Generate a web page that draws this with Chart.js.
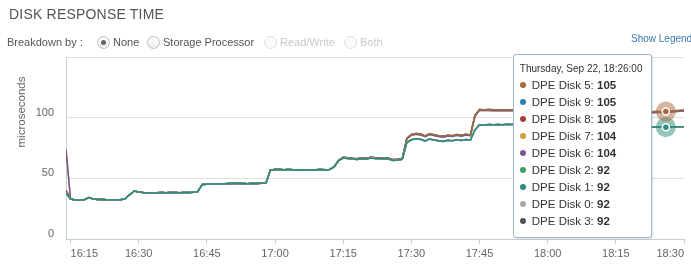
<!DOCTYPE html>
<html>
<head>
<meta charset="utf-8">
<title>Disk Response Time</title>
<script src="https://cdn.jsdelivr.net/npm/chart.js@4.4.1/dist/chart.umd.min.js"></script>
<style>
  html, body { margin: 0; padding: 0; background: #fff; }
  body { width: 691px; height: 279px; position: relative; overflow: hidden; font-family: "Liberation Sans", Arial, sans-serif; }
  #chart { position: absolute; left: 0; top: 0; }
  .title { position: absolute; left: 9px; top: 6px; font-size: 14px; line-height: 16px; color: #555; letter-spacing: 0.2px; }
  .breakdown { position: absolute; left: 7px; top: 36px; font-size: 11px; line-height: 13px; color: #555; }
  .radio { position: absolute; top: 36px; font-size: 11px; line-height: 13px; color: #555; white-space: nowrap; }
  .radio i { display: inline-block; position: relative; width: 11px; height: 11px; border: 1px solid #bdbdbd; border-radius: 50%;
             vertical-align: top; margin-right: 3px; background: linear-gradient(#fff, #ececec); }
  .radio.on i::after { content: ''; position: absolute; left: 3px; top: 3px; width: 5px; height: 5px; border-radius: 50%; background: #666; }
  .radio.off { color: #c9c9c9; }
  .radio.off i { border-color: #dedede; background: #fbfbfb; }
  .legend-link { position: absolute; left: 631px; top: 33px; font-size: 10px; line-height: 12px; color: #3a78b0; white-space: nowrap; }
  #tip { position: absolute; display: none; background: #fff; border: 1px solid #a3b6c9; border-radius: 3px;
         padding: 7px 8px 7px 6px; color: #333; white-space: nowrap; box-shadow: 1px 1px 2px rgba(0,0,0,0.12); }
  #tip .tip-title { font-size: 10px; line-height: 14px; margin-bottom: 1px; }
  #tip .tip-row { font-size: 11.5px; line-height: 17px; }
  #tip .dot { display: inline-block; width: 6px; height: 6px; border-radius: 50%; margin-right: 6px; vertical-align: middle; position: relative; top: -1px; }
</style>
</head>
<body>
<canvas id="chart" width="691" height="279"></canvas>
<div class="title">DISK RESPONSE TIME</div>
<div class="breakdown">Breakdown by :</div>
<div class="radio on" style="left:97px"><i></i>None</div>
<div class="radio" style="left:147px"><i></i>Storage Processor</div>
<div class="radio off" style="left:264px"><i></i>Read/Write</div>
<div class="radio off" style="left:344px"><i></i>Both</div>
<div class="legend-link">Show Legend</div>
<div id="tip"></div>
<script>
// one sample per minute, starting at firstSample
const firstSample = '16:14'
const lastTick = '18:30'
const hoverTime = '18:26'
const dayLabel = 'Thursday, Sep 22'
const yAxisTitle = 'microseconds'

const xTickLabels = ['16:15', '16:30', '16:45', '17:00', '17:15', '17:30', '17:45', '18:00', '18:15', '18:30']

// tooltip order
const diskLabels = ['DPE Disk 5', 'DPE Disk 9', 'DPE Disk 8', 'DPE Disk 7', 'DPE Disk 6', 'DPE Disk 2', 'DPE Disk 1', 'DPE Disk 0', 'DPE Disk 3']
const diskColors = ['#a6693f', '#2f80b0', '#a3433c', '#c9a53a', '#7a5494', '#3e9b62', '#2e8c7e', '#a9a9a9', '#4b545b']
const diskTrace  = ['upper', 'upper', 'upper', 'mid', 'mid', 'lower', 'lower', 'lower', 'lower']
// lower number = drawn on top
const drawOrder  = [2, 5, 6, 8, 7, 4, 0, 1, 3]

// disks 5, 9, 8
const upperTrace = [
  40, 33, 32.2, 32, 32.3, 34.2, 33, 32.6, 32.5, 32.3, 32.2, 32.3, 32.4, 33.2, 36.5, 39.6,
  38.8, 38.4, 38.2, 38, 38.1, 38.3, 38.2, 38.4, 38.3, 38.2, 38.4, 38.3, 38.6, 39.2,
  45, 45.2, 45.4, 45.3, 45.6, 45.5, 45.8, 45.7, 45.9, 45.8, 45.6, 45.9, 45.8, 46, 46.2,
  57, 57.3, 57.2, 57.1, 57.2, 57, 57.1, 57, 56.9, 57, 57.1, 57.2, 57, 57.3,
  59.5, 64.8, 67.3, 67, 66.5, 66.2, 66.8, 66.4, 67.4, 67, 66.8, 66.9, 66.6, 65.4, 65.8, 66.3,
  83, 86.2, 87, 86.5, 85, 86.8, 86, 85.2, 84.6, 85.6, 85.2, 86.2, 85.5, 86.4, 85.8, 102,
  106.8, 106.6, 106.7, 106.5, 106.6, 106.4, 106.5, 106.6, 106.3, 106.5, 106.2, 106.4, 106.1, 106.3, 106.0,
  106.2, 105.9, 106.1, 105.8, 106.0, 105.7, 105.9, 105.6, 105.8, 105.5, 105.7, 105.4, 105.6, 105.3, 105.5,
  105.2, 105.4, 105.1, 105.3, 105.0, 105.2, 104.9, 105.1, 104.8, 105.0, 104.9, 105.0, 105.3, 105.6, 105.9, 106.2
]

// disks 7, 6
const midTrace = [
  74, 33, 32.2, 32, 32.3, 34.2, 33, 32.6, 32.5, 32.3, 32.2, 32.3, 32.4, 33.2, 36.5, 39.6,
  38.8, 38.4, 38.2, 38, 38.1, 38.3, 38.2, 38.4, 38.3, 38.2, 38.4, 38.3, 38.6, 39.2,
  45, 45.2, 45.4, 45.3, 45.6, 45.5, 45.8, 45.7, 45.9, 45.8, 45.6, 45.9, 45.8, 46, 46.2,
  57, 57.3, 57.2, 57.1, 57.2, 57, 57.1, 57, 56.9, 57, 57.1, 57.2, 57, 57.3,
  59.5, 64.8, 67.2, 66.9, 66.4, 66.1, 66.7, 66.3, 67.2, 66.9, 66.7, 66.8, 66.5, 65.3, 65.7, 66.2,
  82.4, 85.5, 86.3, 85.8, 84.3, 86.1, 85.3, 84.5, 83.9, 84.9, 84.5, 85.5, 84.8, 85.7, 85.1, 101.3,
  106.1, 105.9, 106.0, 105.8, 105.9, 105.7, 105.8, 105.9, 105.6, 105.8, 105.5, 105.7, 105.4, 105.6, 105.3,
  105.5, 105.2, 105.4, 105.1, 105.3, 105.0, 105.2, 104.9, 105.1, 104.8, 105.0, 104.7, 104.9, 104.6, 104.8,
  104.5, 104.7, 104.4, 104.6, 104.3, 104.5, 104.2, 104.4, 104.1, 104.3, 104.2, 104.3, 104.6, 104.9, 105.2, 105.5
]

// disks 2, 1, 0, 3
const lowerTrace = [
  38, 33, 32.2, 32, 32.3, 34.2, 33, 32.6, 32.5, 32.3, 32.2, 32.3, 32.4, 33.2, 36.5, 39.6,
  38.8, 38.4, 38.2, 38, 38.1, 38.3, 38.2, 38.4, 38.3, 38.2, 38.4, 38.3, 38.6, 39.2,
  45, 45.2, 45.4, 45.3, 45.6, 45.5, 45.8, 45.7, 45.9, 45.8, 45.6, 45.9, 45.8, 46, 46.2,
  57, 57.3, 57.2, 57.1, 57.2, 57, 57.1, 57, 56.9, 57, 57.1, 57.2, 57, 57.3,
  59.5, 64.6, 66.7, 66.4, 65.9, 65.6, 66.2, 65.8, 66.8, 66.4, 66.2, 66.3, 66, 64.8, 65.2, 65.7,
  79.5, 81.8, 82.6, 82.2, 80.8, 82.4, 81.6, 80.9, 80.3, 81.3, 80.9, 81.8, 81.1, 82, 81.4, 90,
  94.2, 94.0, 94.3, 94.1, 94.4, 94.2, 94.6, 94.3, 94.5, 94.2, 94.0, 94.3, 94.1, 93.8, 94.0,
  93.7, 93.9, 93.6, 93.4, 93.6, 93.3, 93.5, 93.2, 93.0, 93.2, 92.9, 93.1, 92.8, 92.6, 92.8,
  92.5, 92.7, 92.4, 92.6, 92.3, 92.5, 92.2, 92.4, 92.1, 92.3, 92.1, 92.2, 92.4, 92.3, 92.6, 92.5
]

const traces = { upper: upperTrace, mid: midTrace, lower: lowerTrace }
const fontFamily = '"Liberation Sans", Arial, sans-serif'

const toMin = t => { const [h, m] = t.split(':').map(Number); return h * 60 + m }
const fmtMin = v => Math.floor(v / 60) + ':' + String(Math.round(v % 60)).padStart(2, '0')
const startMin = toMin(firstSample)

// Highcharts-like hover: one halo + marker per distinct position
const hoverMarks = {
  id: 'hoverMarks',
  afterDatasetsDraw(chart) {
    const sets = chart.data.datasets
    const active = chart.getActiveElements().slice().sort((a, b) => sets[a.datasetIndex].order - sets[b.datasetIndex].order)
    const ctx = chart.ctx
    const drawn = []
    ctx.save()
    active.forEach(a => {
      const {x, y} = a.element
      if (drawn.some(d => Math.abs(d - y) < 4)) return
      drawn.push(y)
      const color = sets[a.datasetIndex].borderColor
      ctx.globalAlpha = 0.5
      ctx.fillStyle = color
      ctx.beginPath(); ctx.arc(x, y, 10, 0, Math.PI * 2); ctx.fill()
      ctx.globalAlpha = 1
      ctx.lineWidth = 1.5
      ctx.strokeStyle = '#fff'
      ctx.beginPath(); ctx.arc(x, y, 3.5, 0, Math.PI * 2); ctx.fill(); ctx.stroke()
    })
    ctx.restore()
  }
}

// y axis title sits above the middle of the axis in the original
const yTitle = {
  id: 'yTitle',
  afterDraw(chart) {
    const ctx = chart.ctx
    ctx.save()
    ctx.translate(22, chart.chartArea.top + 55)
    ctx.rotate(-Math.PI / 2)
    ctx.font = '11.5px ' + fontFamily
    ctx.fillStyle = '#666'
    ctx.textAlign = 'center'
    ctx.textBaseline = 'middle'
    ctx.fillText(yAxisTitle, 0, 0)
    ctx.restore()
  }
}

function renderTip(context) {
  const {chart, tooltip} = context
  const tip = document.getElementById('tip')
  if (tooltip.opacity === 0 || !tooltip.dataPoints || !tooltip.dataPoints.length) {
    tip.style.display = 'none'
    return
  }
  let html = '<div class="tip-title">' + dayLabel + ', ' + fmtMin(tooltip.dataPoints[0].parsed.x) + ':00</div>'
  tooltip.dataPoints.forEach(dp => {
    html += '<div class="tip-row"><span class="dot" style="background:' + dp.dataset.borderColor + '"></span>' +
      dp.dataset.label + ': <b>' + Math.round(dp.parsed.y) + '</b></div>'
  })
  tip.innerHTML = html
  tip.style.display = 'block'
  tip.style.left = (tooltip.caretX - 14 - tip.offsetWidth) + 'px'
  tip.style.top = (chart.chartArea.top - 3) + 'px'
}

const datasets = diskLabels.map((label, i) => ({
  label: label,
  data: traces[diskTrace[i]].map((y, k) => ({x: startMin + k, y: y})),
  borderColor: diskColors[i],
  backgroundColor: diskColors[i],
  borderWidth: 1.5,
  pointRadius: 0,
  pointHoverRadius: 0,
  tension: 0,
  order: drawOrder[i]
}))

const axisColor = '#c5d0db'

const chart = new Chart(document.getElementById('chart'), {
  type: 'line',
  data: { datasets: datasets },
  options: {
    responsive: false,
    animation: false,
    events: [],
    layout: { padding: { top: 57, right: 7, bottom: 0, left: 0 } },
    plugins: {
      legend: { display: false },
      tooltip: {
        enabled: false,
        mode: 'index',
        intersect: false,
        external: renderTip,
        itemSort: (a, b) => Math.round(b.parsed.y) - Math.round(a.parsed.y) || a.datasetIndex - b.datasetIndex
      }
    },
    scales: {
      x: {
        type: 'linear',
        min: startMin,
        max: toMin(lastTick),
        border: { color: axisColor },
        grid: { drawOnChartArea: false, drawTicks: true, tickLength: 5, color: axisColor },
        ticks: {
          align: 'inner', padding: 3, color: '#666', maxRotation: 0, autoSkip: false,
          font: { size: 11, family: fontFamily },
          callback: v => fmtMin(v)
        },
        afterBuildTicks: s => { s.ticks = xTickLabels.map(l => ({ value: toMin(l) })) },
        afterFit: s => { s.height = 40; s.paddingLeft = 0; s.paddingRight = 0 }
      },
      y: {
        min: 0,
        max: 150,
        border: { color: axisColor },
        grid: { color: '#dedede', drawTicks: false },
        ticks: {
          stepSize: 50, padding: 12, labelOffset: -5, color: '#666',
          font: { size: 11, family: fontFamily },
          callback: v => (v === 150 ? '' : v)
        },
        afterFit: s => { s.width = 66 }
      }
    }
  },
  plugins: [hoverMarks, yTitle]
})

// show the shared tooltip at 18:26
const hoverIndex = toMin(hoverTime) - startMin
const active = datasets.map((d, i) => ({ datasetIndex: i, index: hoverIndex }))
chart.setActiveElements(active)
chart.tooltip.setActiveElements(active, { x: 0, y: 0 })
chart.update()
</script>
</body>
</html>
